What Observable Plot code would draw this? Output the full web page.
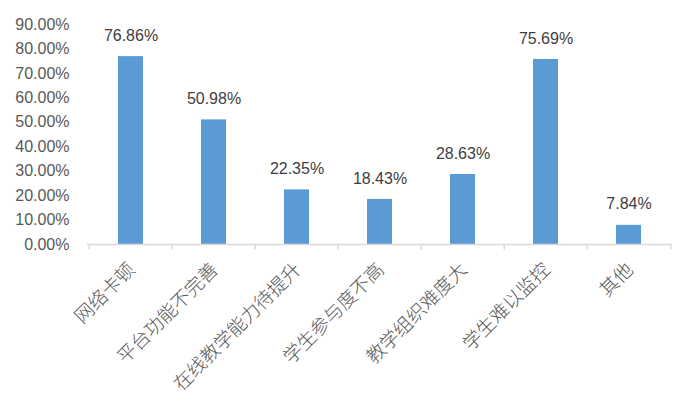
<!DOCTYPE html>
<html>
<head>
<meta charset="utf-8">
<script src="https://cdn.jsdelivr.net/npm/d3@7"></script>
<script src="https://cdn.jsdelivr.net/npm/@observablehq/plot@0.6"></script>
<style>
  html, body { margin: 0; padding: 0; background: #fff; }
  #chart svg { display: block; }
</style>
</head>
<body>
<div id="chart"></div>
<script>
const categories = ["网络卡顿", "平台功能不完善", "在线教学能力待提升", "学生参与度不高", "教学组织难度大", "学生难以监控", "其他"];
const values = [0.7686, 0.5098, 0.2235, 0.1843, 0.2863, 0.7569, 0.0784];
const yTicks = [0, 0.1, 0.2, 0.3, 0.4, 0.5, 0.6, 0.7, 0.8, 0.9];

const data = categories.map((c, i) => ({category: c, value: values[i]}));

const W = 695, H = 407;
const mL = 87, mR = 23, mT = 24, mB = 163;
const step = (W - mL - mR) / categories.length;
const fmt = d3.format(".2%");

const chart = Plot.plot({
  width: W,
  height: H,
  marginLeft: mL,
  marginRight: mR,
  marginTop: mT,
  marginBottom: mB,
  style: {fontFamily: "'Liberation Sans', Arial, sans-serif", background: "#fff"},
  x: {domain: categories, padding: 0, axis: null},
  y: {domain: [0, 0.9], axis: null},
  marks: [
    Plot.barY(data, {x: "category", y: "value", fill: "#5B9BD5", insetLeft: 29, insetRight: 29}),
    Plot.ruleY([0], {stroke: "#D9D9D9", strokeWidth: 1.5}),
    Plot.ruleX(categories, {x: d => d, y1: 0, y2: -0.022, dx: -step / 2, stroke: "#D9D9D9", strokeWidth: 1.5, clip: false}),
    Plot.ruleX([categories[categories.length - 1]], {x: d => d, y1: 0, y2: -0.022, dx: step / 2, stroke: "#D9D9D9", strokeWidth: 1.5, clip: false}),
    Plot.text(yTicks, {y: d => d, text: d => fmt(d), frameAnchor: "left", textAnchor: "end", dx: -18, fontSize: 16, fill: "#595959", lineAnchor: "middle"}),
    Plot.text(data, {x: "category", y: "value", text: d => fmt(d.value), dy: -21, fontSize: 16, fill: "#404040", lineAnchor: "middle"}),
    Plot.text(categories, {x: d => d, y: () => 0, text: d => d, rotate: -45, textAnchor: "end", lineAnchor: "middle", dx: 1, dy: 22, fontSize: 19, fill: "#595959", fontFamily: "'Noto Sans CJK SC', sans-serif", fontWeight: 300})
  ]
});
document.getElementById("chart").appendChild(chart);
</script>
</body>
</html>
